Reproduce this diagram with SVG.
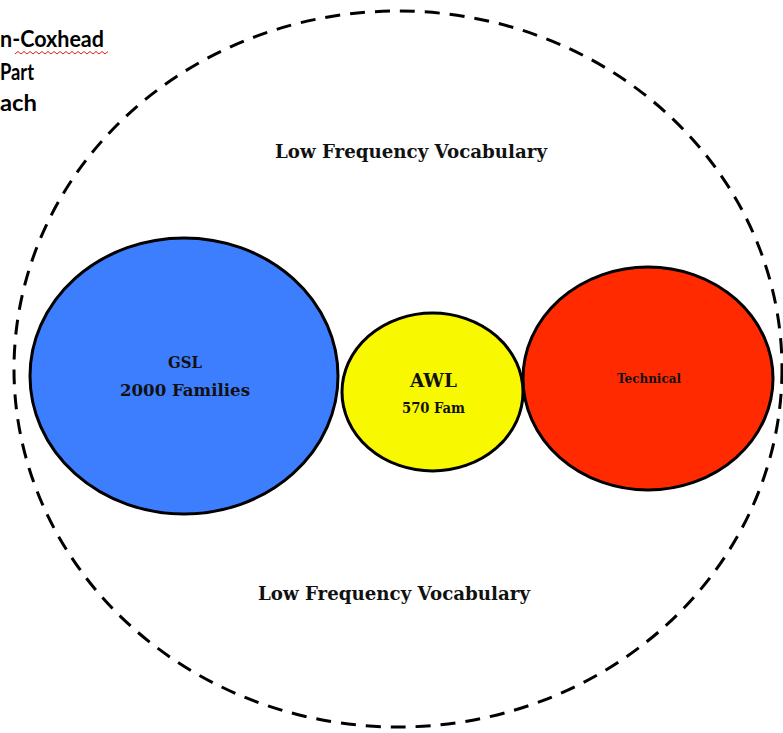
<svg xmlns="http://www.w3.org/2000/svg" width="783" height="733" viewBox="0 0 783 733">
<style>
.lbl{font-family:"DejaVu Serif","Liberation Serif",serif;font-weight:bold;fill:#111;text-anchor:middle}
.set{stroke:#000;stroke-width:3}
.hdr{font-family:Lato,"Liberation Sans",Arial,sans-serif;font-weight:bold;font-size:23px;fill:#000}
</style>
<rect width="783" height="733" fill="#fff"/>
<g id="title">
<text class="hdr" x="0" y="47" textLength="104" lengthAdjust="spacingAndGlyphs">n-Coxhead</text>
<polyline points="15,54 18,51.5 21,54 24,51.5 27,54 30,51.5 33,54 36,51.5 39,54 42,51.5 45,54 48,51.5 51,54 54,51.5 57,54 60,51.5 63,54 66,51.5 69,54 72,51.5 75,54 78,51.5 81,54 84,51.5 87,54 90,51.5 93,54 96,51.5 99,54 102,51.5 105,54 108,51.5" fill="none" stroke="#e02020" stroke-width="1"/>
<text class="hdr" x="0" y="80" textLength="34" lengthAdjust="spacingAndGlyphs">Part</text>
<text class="hdr" x="0" y="111" textLength="37" lengthAdjust="spacingAndGlyphs">ach</text>
</g>
<g id="universe">
<ellipse cx="398" cy="369" rx="384" ry="358" fill="none" stroke="#000" stroke-width="3" stroke-dasharray="15 10"/>
<text class="lbl" x="411" y="158" font-size="19" textLength="272" lengthAdjust="spacingAndGlyphs">Low Frequency Vocabulary</text>
<text class="lbl" x="394" y="600" font-size="19" textLength="272" lengthAdjust="spacingAndGlyphs">Low Frequency Vocabulary</text>
</g>
<g id="gsl">
<ellipse class="set" cx="184" cy="376" rx="154" ry="138" fill="#3D7EFF"/>
<text class="lbl" x="185" y="368" font-size="17" textLength="34" lengthAdjust="spacingAndGlyphs">GSL</text>
<text class="lbl" x="185" y="396" font-size="17" textLength="130" lengthAdjust="spacingAndGlyphs">2000 Families</text>
</g>
<g id="awl">
<ellipse class="set" cx="432.5" cy="392" rx="90.5" ry="79" fill="#F8F800"/>
<text class="lbl" x="433.5" y="387" font-size="19" textLength="47" lengthAdjust="spacingAndGlyphs">AWL</text>
<text class="lbl" x="433.5" y="413" font-size="14" textLength="63" lengthAdjust="spacingAndGlyphs">570 Fam</text>
</g>
<g id="technical">
<ellipse class="set" cx="648" cy="378.5" rx="125" ry="111.5" fill="#FF2A00"/>
<text class="lbl" x="649" y="383" font-size="13" textLength="64" lengthAdjust="spacingAndGlyphs">Technical</text>
</g>
<g id="connectors"/>
</svg>
